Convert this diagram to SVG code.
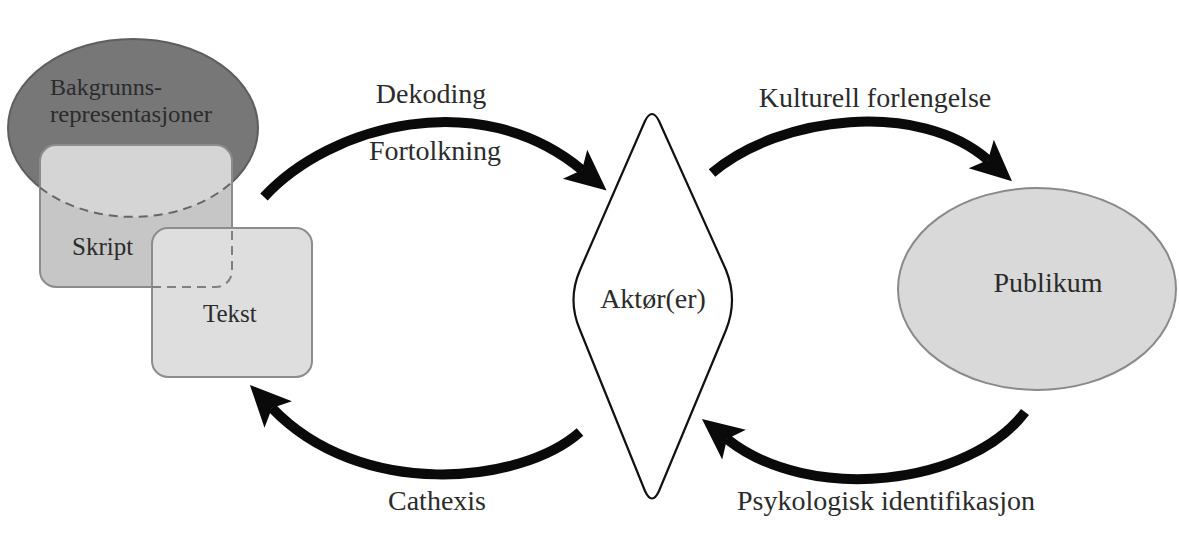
<svg xmlns="http://www.w3.org/2000/svg" width="1179" height="533" viewBox="0 0 1179 533">
<style>
  text { font-family: "Liberation Serif", serif; fill: #2b2b2b; }
  .lbl { font-size: 28px; }
  .sm { font-size: 25px; }
  .bg { font-size: 24px; }
  .arrow { fill: none; stroke: #0a0a0a; stroke-width: 10; stroke-linecap: butt; }
  .dash { fill: none; stroke-dasharray: 9 6; stroke-width: 2; }
</style>
<defs>
  <marker id="ah" markerUnits="userSpaceOnUse" viewBox="0 -20 42 40" markerWidth="42" markerHeight="40" refX="9" refY="0" orient="auto">
    <path d="M0,-19 L41,0 L0,19 L9,0 Z" fill="#0a0a0a"/>
  </marker>
  <clipPath id="skClip">
    <rect x="40" y="145" width="192" height="142" rx="16"/>
  </clipPath>
</defs>
<rect width="1179" height="533" fill="#ffffff"/>

<g id="bakgrunn">
  <ellipse cx="133" cy="128" rx="125" ry="89" fill="#777777" stroke="#5e5e5e" stroke-width="2"/>
  <text class="bg" x="50" y="95">Bakgrunns-</text>
  <text class="bg" x="50" y="122" textLength="162" lengthAdjust="spacingAndGlyphs">representasjoner</text>
</g>

<g id="skript">
  <rect x="40" y="145" width="192" height="142" rx="16" fill="#c6c6c6"/>
  <ellipse cx="133" cy="128" rx="125" ry="89" fill="#d5d5d5" clip-path="url(#skClip)"/>
  <rect x="40" y="145" width="192" height="142" rx="16" fill="none" stroke="#8c8c8c" stroke-width="2"/>
  <path class="dash" d="M40,187.5 A125,89 0 0 0 232,182" stroke="#666666"/>
  <text class="sm" x="72" y="255">Skript</text>
</g>

<g id="tekst">
  <rect x="152" y="228" width="160" height="149" rx="16" fill="#dedede" stroke="#8c8c8c" stroke-width="2"/>
  <path class="dash" d="M152,287 L216,287 A16,16 0 0 0 232,271 L232,228" stroke="#808080"/>
  <text class="sm" x="203" y="322">Tekst</text>
</g>

<g id="aktor">
  <path d="M645,121 Q652,107 659,121 L726,270 Q738,300 726,330 L659,491 Q652,506 645,491 L580,330 Q567,300 580,270 Z" fill="#ffffff" stroke="#111111" stroke-width="2.2"/>
  <text class="lbl" x="653" y="308" text-anchor="middle">Aktør(er)</text>
</g>

<g id="publikum">
  <ellipse cx="1037" cy="289" rx="139" ry="101" fill="#d9d9d9" stroke="#8a8a8a" stroke-width="2"/>
  <text class="lbl" x="1048" y="292" text-anchor="middle">Publikum</text>
</g>

<g id="connectors">
  <path class="arrow" d="M264,197 C330,125 480,85 582,170" marker-end="url(#ah)"/>
  <path class="arrow" d="M712,173 C780,115 920,100 988,160" marker-end="url(#ah)"/>
  <path class="arrow" d="M580,432 C520,485 360,500 272,408" marker-end="url(#ah)"/>
  <path class="arrow" d="M1025,412 C970,485 810,505 727,439" marker-end="url(#ah)"/>
</g>

<g id="labels">
  <text class="lbl" x="431" y="103" text-anchor="middle">Dekoding</text>
  <text class="lbl" x="435" y="160" text-anchor="middle">Fortolkning</text>
  <text class="lbl" x="875" y="107" text-anchor="middle">Kulturell forlengelse</text>
  <text class="lbl" x="437" y="510" text-anchor="middle">Cathexis</text>
  <text class="lbl" x="886" y="510" text-anchor="middle">Psykologisk identifikasjon</text>
</g>
</svg>
